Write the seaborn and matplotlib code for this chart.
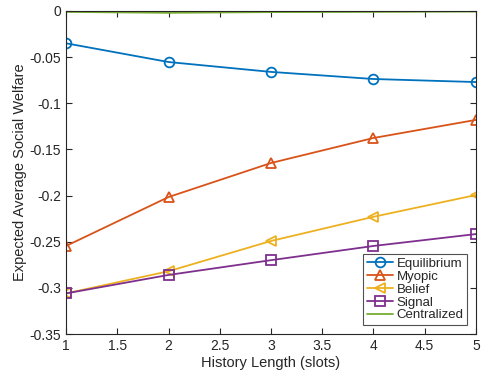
import numpy as np
import pandas as pd
import matplotlib
matplotlib.use('Agg')
import matplotlib.pyplot as plt
import seaborn as sns
from matplotlib.ticker import FuncFormatter

history = [1, 2, 3, 4, 5]
equilibrium = [-0.035, -0.0553, -0.066, -0.0737, -0.077]
myopic = [-0.2546, -0.2016, -0.1647, -0.1376, -0.118]
belief = [-0.306, -0.282, -0.2492, -0.223, -0.1994]
signal = [-0.306, -0.286, -0.270, -0.2546, -0.2417]
centralized = [-0.001, -0.002, -0.0012, -0.001, -0.0006]

series = {
    'Equilibrium': (equilibrium, '#0072BD', 'o'),
    'Myopic': (myopic, '#D95319', '^'),
    'Belief': (belief, '#EDB120', '<'),
    'Signal': (signal, '#7E2F8E', 's'),
    'Centralized': (centralized, '#77AC30', None),
}

sns.set_style('ticks')
plt.rcParams['font.family'] = ['Liberation Sans', 'DejaVu Sans']

fig = plt.figure(figsize=(4.82, 3.75), dpi=100)
ax = fig.add_axes([0.137, 0.1093, 0.8505, 0.8614])

for name, (vals, col, mk) in series.items():
    df = pd.DataFrame({'x': history, 'y': vals})
    sns.lineplot(data=df, x='x', y='y', ax=ax, color=col, label=name,
                 marker=mk, markersize=7, markerfacecolor='none',
                 markeredgecolor=col, markeredgewidth=1.3, linewidth=1.3)

ax.set_xlim(1, 5)
ax.set_ylim(-0.35, 0)
ax.set_xticks(np.arange(1, 5.01, 0.5))
ax.set_yticks(np.arange(-0.35, 0.001, 0.05))
ax.xaxis.set_major_formatter(FuncFormatter(lambda v, p: f'{v:g}'))
ax.yaxis.set_major_formatter(FuncFormatter(lambda v, p: '0' if abs(v) < 1e-9 else f'{v:g}'))
ax.tick_params(direction='in', top=True, right=True, labelsize=10, colors='#262626', length=4)
for s in ax.spines.values():
    s.set_color('#262626')
    s.set_linewidth(0.8)
ax.set_xlabel('History Length (slots)', fontsize=10.5, color='#262626', labelpad=2)
ax.set_ylabel('Expected Average Social Welfare', fontsize=10.5, color='#262626', labelpad=2)

leg = ax.legend(loc='lower right', fontsize=9.5, frameon=True, fancybox=False,
                edgecolor='#262626', borderaxespad=0.7, handlelength=2.0,
                handletextpad=0.25, borderpad=0.25, labelspacing=0.05)
leg.get_frame().set_linewidth(0.8)

fig.savefig('out.png', dpi=100)
